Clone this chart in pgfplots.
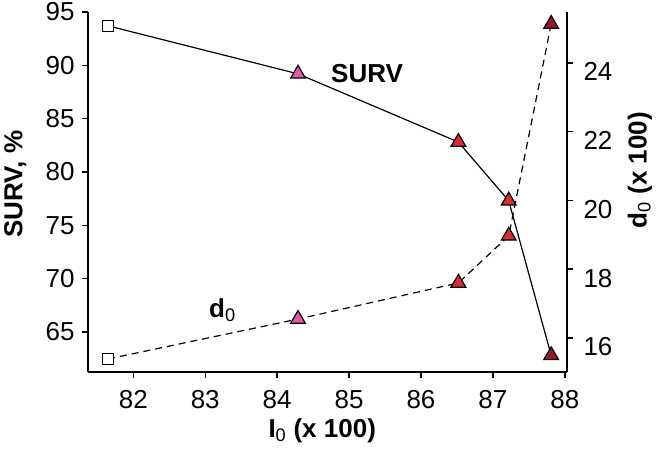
\documentclass[border=0pt]{standalone}
\usepackage{fontspec}
\setmainfont{Liberation Sans}
\usepackage{pgfplots}
\pgfplotsset{compat=1.18}
\definecolor{pinkm}{RGB}{226,88,170}
\definecolor{redm}{RGB}{218,45,48}
\definecolor{dredm}{RGB}{150,25,35}
\begin{document}
\begin{tikzpicture}
\pgfplotsset{
  base/.style={
    scale only axis, width=479pt, height=360pt,
    xmin=81.37, xmax=88.03,
    tick align=outside, major tick length=6pt,
    tick style={line width=1.4pt, black},
    axis line style={line width=2.4pt},
    ticklabel style={font=\fontsize{26}{26}\selectfont},
    label style={font=\bfseries\fontsize{26}{26}\selectfont, inner sep=0pt},
    /pgf/number format/assume math mode=true,
    clip=false,
  },
  tri/.style={only marks, mark=triangle*, mark size=8.5pt, mark options={draw=black, line width=1.2pt, fill=#1}},
  sq/.style={only marks, mark=square*, mark size=5.5pt, mark options={draw=black, line width=1.2pt, fill=white}},
}
\begin{axis}[base, name=main,
  axis x line*=bottom, axis y line*=left,
  ymin=61.24, ymax=95,
  ytick={65,70,...,95}, xtick={82,83,...,88},
  xticklabel style={yshift=-12pt, inner sep=0pt},
  yticklabel style={xshift=-4pt},
  ylabel={SURV, \%},
  ylabel style={at={(axis description cs:-0.152,0.522)}, anchor=center},
  xlabel={I\textsubscript{\normalfont 0} (x 100)},
  xlabel style={at={(axis description cs:0.489,-0.162)}, anchor=center},
]
\addplot[black, line width=1.2pt] coordinates {
  (81.65,93.7) (84.29,89.2) (86.52,82.8) (87.22,77.3) (87.81,62.8)
};
\addplot[sq] coordinates {(81.65,93.7)};
\addplot[tri=pinkm] coordinates {(84.29,89.2)};
\addplot[tri=redm] coordinates {(86.52,82.8) (87.22,77.3)};
\addplot[tri=dredm] coordinates {(87.81,62.8)};
\node[font=\bfseries\fontsize{26}{26}\selectfont] at (axis cs:85.25,89.27) {SURV};
\node[font=\bfseries\fontsize{26}{26}\selectfont] at (axis cs:83.24,67.0) {d\textsubscript{\normalfont 0}};
\end{axis}
\begin{axis}[base,
  axis x line=none, axis y line*=right,
  ymin=15.01, ymax=25.48,
  ytick={16,18,...,24},
  yticklabel style={yshift=-9pt, xshift=7pt},
  ylabel={d\textsubscript{\normalfont 0} (x 100)},
  ylabel style={at={(axis description cs:1.152,0.561)}, anchor=center},
]
\addplot[black, line width=1.2pt, dashed, dash pattern=on 7pt off 5pt] coordinates {
  (81.65,15.39) (84.29,16.55) (86.52,17.6) (87.22,18.97) (87.81,25.13)
};
\addplot[sq] coordinates {(81.65,15.39)};
\addplot[tri=pinkm] coordinates {(84.29,16.55)};
\addplot[tri=redm] coordinates {(86.52,17.6) (87.22,18.97)};
\addplot[tri=dredm] coordinates {(87.81,25.13)};
\end{axis}
\pgfresetboundingbox
\path[use as bounding box] ([shift={(-88pt,-78pt)}]main.south west) rectangle ([shift={(90pt,12pt)}]main.north east);
\end{tikzpicture}
\end{document}
